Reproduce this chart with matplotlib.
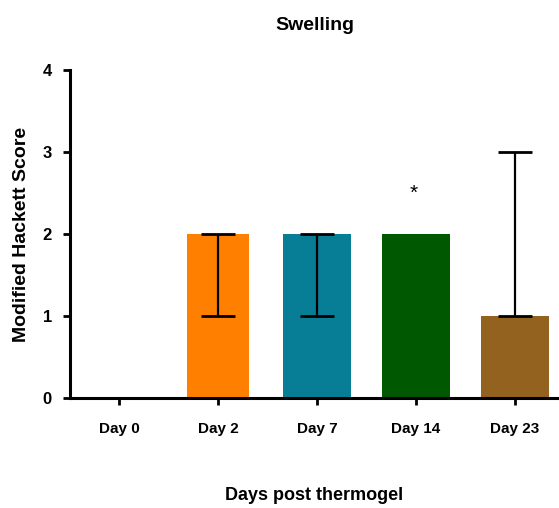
import numpy as np
import matplotlib.pyplot as plt

plt.rcParams['font.family'] = ['Liberation Sans', 'DejaVu Sans']

days = ['Day 0', 'Day 2', 'Day 7', 'Day 14', 'Day 23']
scores = [0, 2, 2, 2, 1]
err_low = [0, 1, 1, 0, 0]
err_high = [0, 0, 0, 0, 2]
colors = ['#FF8000', '#FF8000', '#087D96', '#005800', '#94621F']
widths = [0.62, 0.62, 0.68, 0.68, 0.68]
signif = ['', '', '', '*', '']
signif_y = [0, 0, 0, 2.5, 0]

fig = plt.figure(figsize=(5.59, 5.08), dpi=100)
ax = fig.add_axes([70 / 559, 110 / 508, 489 / 559, 328 / 508])

x = np.arange(len(days))
ax.bar(x, scores, width=widths, color=colors, edgecolor='none', zorder=2)

# only draw error bars where there is a range
has_err = [i for i in range(len(days)) if err_low[i] or err_high[i]]
ax.errorbar(x[has_err], [scores[i] for i in has_err],
            yerr=[[err_low[i] for i in has_err], [err_high[i] for i in has_err]],
            fmt='none', ecolor='black', elinewidth=1.6, capsize=12, capthick=2,
            zorder=3)

for i, s in enumerate(signif):
    if s:
        ax.text(x[i] - 0.02, signif_y[i], s, ha='center', va='center', fontsize=15)

ax.set_xlim(-0.495, 4.445)
ax.set_ylim(0, 4)
ax.set_yticks([0, 1, 2, 3, 4])
ax.set_xticks(x)
ax.set_xticklabels(days, fontweight='bold', fontsize=11)
for lab in ax.get_yticklabels():
    lab.set_fontweight('bold')
    lab.set_fontsize(12)

for side in ['top', 'right']:
    ax.spines[side].set_visible(False)
for side in ['left', 'bottom']:
    ax.spines[side].set_linewidth(2.2)
ax.tick_params(axis='y', length=5, width=2, pad=8)
ax.tick_params(axis='x', length=5, width=2, pad=12)

ax.set_title('Swelling', fontweight='bold', fontsize=14, pad=29)
ax.set_xlabel('Days post thermogel', fontweight='bold', fontsize=13, labelpad=37)
ax.set_ylabel('Modified Hackett Score', fontweight='bold', fontsize=14, labelpad=9)

fig.savefig('out.png', dpi=100)
